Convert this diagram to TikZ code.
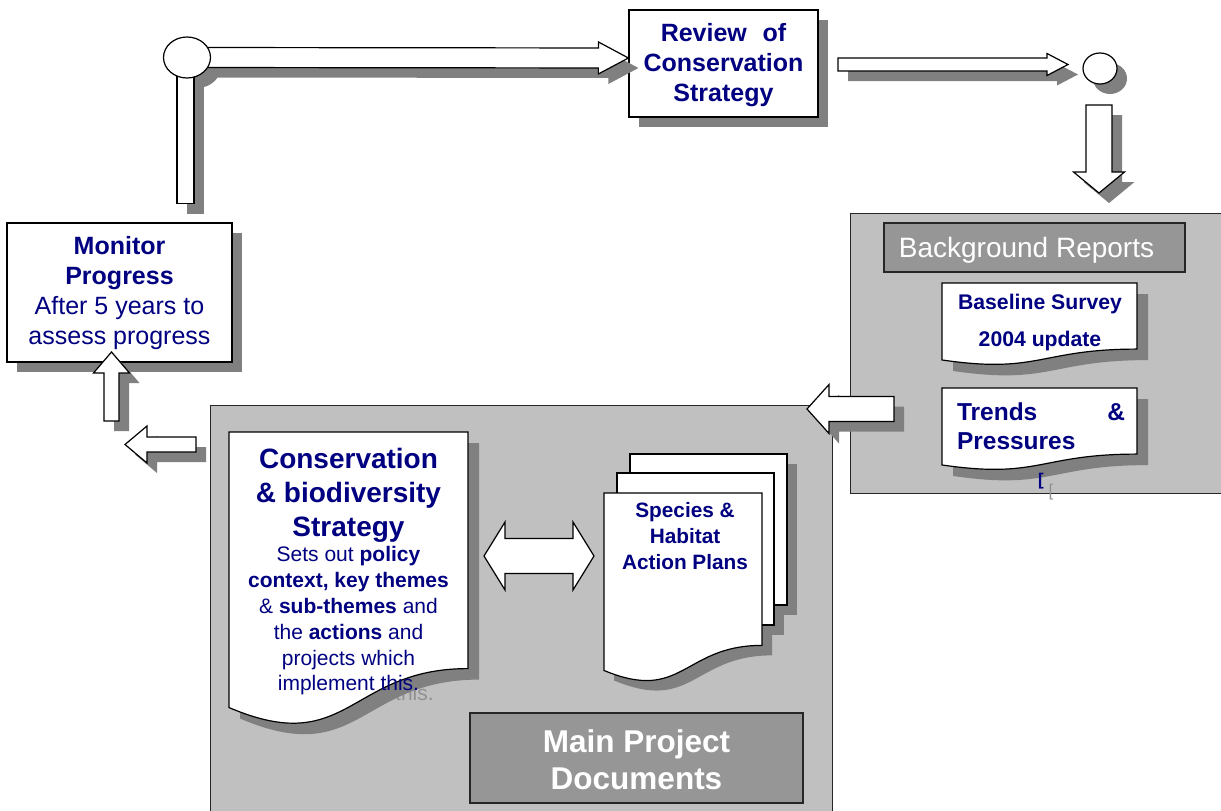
\documentclass[tikz,border=0pt]{standalone}
\usepackage{fontspec}
\setmainfont{Liberation Sans}
\usetikzlibrary{calc,shapes.geometric,shadows}
\definecolor{navy}{RGB}{0,0,128}
\definecolor{shadowc}{RGB}{128,128,128}
\definecolor{panelc}{RGB}{192,192,192}
\definecolor{titlec}{RGB}{150,150,150}
\definecolor{ghostc}{RGB}{145,145,145}
\newcommand\fs[2]{\fontsize{#1}{#2}\selectfont}
% document (wavy bottom) outline: x, y, w, h
\newcommand\docpath[4]{(#1,#2) -- ({#1+#3},#2) -- ({#1+#3},{#2+0.802*#4}) .. controls ({#1+0.5*#3},{#2+0.802*#4}) and ({#1+0.5*#3},{#2+1.107*#4}) .. (#1,{#2+0.934*#4}) -- cycle}
% block arrow outline: from, to, shaft half, head half (uses ba-h)
\newcommand\baoutline[4]{($(#1)!#3!90:(#2)$) -- ($(ba-h)!#3!90:(#2)$) -- ($(ba-h)!#4!90:(#2)$) -- (#2) -- ($(ba-h)!#4!-90:(#2)$) -- ($(ba-h)!#3!-90:(#2)$) -- ($(#1)!#3!-90:(#2)$) -- cycle}
\newcommand\blockarrow[5]{%
  \coordinate (ba-h) at ($(#2)!#5!(#1)$);
  \fill[shadowc, transform canvas={shift={(10pt,-10pt)}}] \baoutline{#1}{#2}{#3}{#4};
  \filldraw[arrowsty] \baoutline{#1}{#2}{#3}{#4};
}
\tikzset{
  outl/.style={draw=black, line width=1.2pt},
  whitebox/.style={outl, fill=white, inner sep=0pt},
  shadowed/.style={drop shadow={shadow xshift=10pt, shadow yshift=-10pt, opacity=1, fill=shadowc, draw=none}},
  arrowsty/.style={outl, fill=white, line join=miter},
  docsty/.style={outl, fill=white},
  panel/.style={draw=black!85, line width=1.2pt, fill=panelc, inner sep=0pt},
  titlebox/.style={draw=black!85, line width=1.2pt, fill=titlec, inner sep=0pt, text=white, align=center},
  txt/.style={text=navy, align=center, inner sep=0pt},
}
\begin{document}
\begin{tikzpicture}[x=1pt, y=-1pt]
\useasboundingbox[fill=white] (0,0) rectangle (1221,811);

% ---------- panels
\node[panel, anchor=north west, minimum width=622, minimum height=430] (mainpanel) at (210,405) {};
\node[panel, anchor=north west, minimum width=385, minimum height=280] (bgpanel) at (850,213) {};

% ---------- conservation strategy document
\node[text=ghostc, inner sep=0pt, anchor=west, font=\fs{21}{25.8}] (ghost) at (395,693) {this.};
\fill[shadowc, shift={(11,11)}] \docpath{229}{432}{239}{295};
\filldraw[docsty] \docpath{229}{432}{239}{295};
\node[txt, font=\fs{28}{34}\bfseries] (constitle) at (348.5,495) {Conservation\\\& biodiversity\\Strategy};
\node[txt, font=\fs{21}{25.8}] (consbody) at (348.5,621) {Sets out \textbf{policy}\\\textbf{context, key themes}\\\& \textbf{sub-themes} and\\the \textbf{actions} and\\projects which\\implement this.};

% ---------- species & habitat action plans (stack)
\fill[shadowc, shift={(10,10)}] (630,454) rectangle (787,605);
\fill[shadowc, shift={(10,10)}] (617,473) rectangle (774,625);
\fill[shadowc, shift={(10,10)}] \docpath{604}{493}{158}{190};
\filldraw[docsty] (630,454) rectangle (787,605);
\filldraw[docsty] (617,473) rectangle (774,625);
\filldraw[docsty] \docpath{604}{493}{158}{190};
\node[txt, font=\fs{20.8}{26}\bfseries] (species) at (685,536) {Species \&\\Habitat\\Action Plans};

% ---------- double arrow
\coordinate (da1) at (484,556);
\coordinate (da2) at (594,556);
\coordinate (dh1) at ($(da1)!21pt!(da2)$);
\coordinate (dh2) at ($(da2)!21pt!(da1)$);
\filldraw[arrowsty] (da1) -- ($(dh1)!34pt!90:(da2)$) -- ($(dh1)!17.5pt!90:(da2)$) -- ($(dh2)!17.5pt!-90:(da1)$) -- ($(dh2)!34pt!-90:(da1)$) -- (da2) -- ($(dh2)!34pt!90:(da1)$) -- ($(dh2)!17.5pt!90:(da1)$) -- ($(dh1)!17.5pt!-90:(da2)$) -- ($(dh1)!34pt!-90:(da2)$) -- cycle;

% ---------- main title
\node[titlebox, minimum width=333, minimum height=90] (maintitle) at (636.5,758) {};
\node[inner sep=0pt, text=white, align=center, font=\fs{31.5}{37}\bfseries] (maintext) at (636.5,759.5) {Main Project\\Documents};

% ---------- background reports
\node[titlebox, minimum width=301, minimum height=49] (bgtitle) at (1034.5,247.5) {};
\node[inner sep=0pt, text=white, font=\fs{28}{32}] (bgtext) at (1026.5,250) {Background Reports};
\fill[shadowc, shift={(11,11)}] \docpath{942}{283}{195}{82.4};
\filldraw[docsty] \docpath{942}{283}{195}{82.4};
\node[txt, font=\fs{21.2}{37}\bfseries] (baseline) at (1040,323) {Baseline Survey\\2004 update};
\fill[shadowc, shift={(11,11)}] \docpath{942}{388}{195}{82.4};
\filldraw[docsty] \docpath{942}{388}{195}{82.4};
\node[txt, align=left, font=\fs{24.5}{29}\bfseries] (trends) at (1041,426) {\hbox to 168pt{Trends\hfill\&}\\Pressures};
\node[txt, font=\fs{17}{20}\bfseries] (brk1) at (1041,481) {[};
\node[inner sep=0pt, text=ghostc, font=\fs{17}{20}] (brk2) at (1051,492) {[};

% ---------- arrow from background reports to main documents
\coordinate (a4s) at (894,409);
\coordinate (a4e) at (807,409);
\blockarrow{a4s}{a4e}{12.5pt}{24.5pt}{22pt}

% ---------- monitor progress
\node[whitebox, shadowed, minimum width=225, minimum height=139] (monitor) at (119.5,292.5) {};
\node[txt, font=\fs{25}{30}] (montext) at (119.5,293) {\textbf{Monitor}\\\textbf{Progress}\\After 5 years to\\assess progress};
\coordinate (a5s) at (196,444.5);
\coordinate (a5e) at (125,444.5);
\blockarrow{a5s}{a5e}{7.5pt}{18.5pt}{22pt}
\coordinate (a6s) at (111.5,421);
\coordinate (a6e) at (111.5,352);
\blockarrow{a6s}{a6e}{7.5pt}{18pt}{21pt}

% ---------- review and loop at top
\node[whitebox, shadowed, minimum width=189, minimum height=107] (review) at (723.5,63.5) {};
\node[txt, font=\fs{25}{30}\bfseries] (reviewtext) at (723.5,65) {Review\hspace{0.35em} of\\Conservation\\Strategy};
\coordinate (c1c) at (187,57.5);
\coordinate (barend) at (185.5,203.5);
\fill[shadowc] ([shift={(10,10)}]c1c) ellipse [x radius=23.5, y radius=20.5];
\fill[shadowc, transform canvas={shift={(10pt,-10pt)}}] ($(c1c)+(-10,0)$) rectangle ($(barend)+(8.5,0)$);
\filldraw[outl, fill=white] ($(c1c)+(-10,0)$) rectangle ($(barend)+(8.5,0)$);
\coordinate (a1e) at ($(review.west)+(0,-5.5)$);
\blockarrow{c1c}{a1e}{10pt}{16pt}{30pt}
\node[ellipse, whitebox, minimum width=47, minimum height=41] (c1) at (c1c) {};

\coordinate (a2s) at (838,64.5);
\coordinate (a2e) at (1068,64.5);
\blockarrow{a2s}{a2e}{6.5pt}{11pt}{21pt}
\node[ellipse, whitebox, shadowed, minimum width=34, minimum height=31] (c2) at (1100,68.5) {};
\coordinate (a3s) at (1099,105);
\coordinate (a3e) at (1099,193);
\blockarrow{a3s}{a3e}{13pt}{25.5pt}{21pt}
\end{tikzpicture}
\end{document}
